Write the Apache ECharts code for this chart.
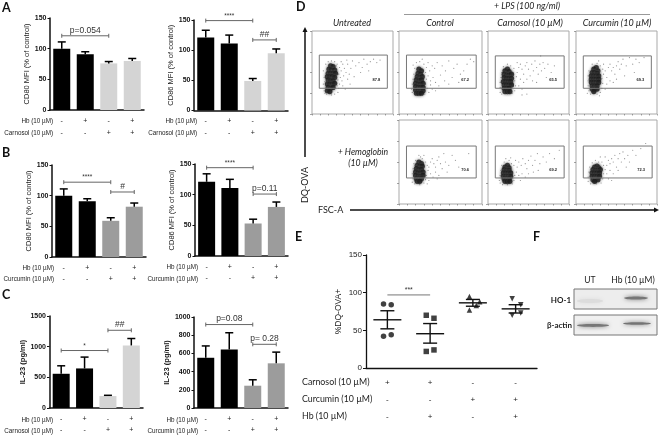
<!DOCTYPE html>
<html><head><meta charset="utf-8">
<style>html,body{margin:0;padding:0;background:#fff}#c{width:660px;height:436px}</style>
<script src="https://cdn.jsdelivr.net/npm/echarts@6/dist/echarts.min.js"></script>
</head><body><div id="c"></div>
<script>
// ---------- data ----------
const rowCatsBar = ['-\n-','+\n-','-\n+','+\n+'];
const rowCatsE = ['+\n-\n-','+\n-\n+','-\n+\n-','-\n+\n+'];

const a1Vals=[100,91,76,80], a1Err=[111,95,79,84];
const a2Vals=[121,111,49,95], a2Err=[133,125,53,102];
const b1Vals=[100,91,59,82], b1Err=[111,95,64,88];
const b2Vals=[121,111,53,80], b2Err=[134,125,60,88];
const c1Vals=[558,645,195,1020], c1Err=[688,830,207,1133];
const c2Vals=[552,643,245,491], c2Err=[682,827,310,614];

const a1Brackets=[[0,2,121,'p=0.054',8.5]];
const a2Brackets=[[0,2,149,'****',6.5],[2,3,117,'##',8.5]];
const b1Brackets=[[0,2,122,'****',6.5],[2,3,106,'#',8.5]];
const b2Brackets=[[0,2,144,'****',6.5],[2,3,101,'p=0.11',8.5]];
const c1Brackets=[[0,2,937,'*',6.5],[2,3,1267,'##',8.5]];
const c2Brackets=[[0,2,917,'p=0.08',8.5],[2,3,700,'p= 0.28',8.5]];

const eCircles=[[0.41,85],[0.59,84],[0.41,42],[0.59,44]];
const eSquares=[[1.41,70],[1.59,66],[1.41,22],[1.59,24]];
const eTriUp=[[2.42,95],[2.66,88],[2.58,83],[2.42,77]];
const eTriDown=[[3.42,92],[3.62,84],[3.62,73],[3.42,70]];
const eMeans=[64,45.5,86.5,78.5], eHigh=[76,59,91,84], eLow=[52,33,82,73];
const eBracket=[[0,1,97,'***',7]];

const flowGates=[[9,31,93,71],[9,31,93,71],[9,31,94,70],[9,31,93,70],[9,31,93,69],[9,31,94,69],[9,31,94,69]];
const flowValues=['87.8','67.2','65.5','69.3','70.6','69.2','72.3'];

const flowCore1=[[23,58],[26,57],[21,54],[24,53],[28,53],[20,49],[23,49],[26,49],[29,49],[19,45],[22,45],[25,45],[28,44],[20,41],[23,40],[26,40],[19,36],[22,36],[25,36],[28,37],[20,32],[23,31],[26,32],[19,28],[22,27]];
const flowSparse1=[[14,52],[15,44],[14,36],[15,28],[16,25],[18,24],[24,23],[28,24],[32,26],[33,31],[34,36],[32,41],[35,44],[33,48],[36,52],[34,56],[31,60],[28,63],[24,64],[20,63],[17,60],[38,60],[40,55],[42,50],[39,46],[37,40],[38,34],[41,30],[44,42],[46,48],[48,55],[44,60],[50,64],[54,58],[58,62],[60,50],[64,66],[68,60],[72,63],[76,66],[80,62],[84,65],[70,52],[52,45],[47,36],[62,56],[17,31],[16,39],[31,34],[30,58],[36,63],[43,65]];
const flowCore2=[[24,54],[27,52],[23,49],[26,48],[22,45],[25,44],[28,45],[21,41],[24,40],[27,41],[20,37],[23,36],[26,36],[29,37],[20,33],[23,32],[26,32],[29,32],[20,29],[23,28],[26,28],[29,28],[21,25],[24,25],[27,25]];
const flowSparse2=[[17,59],[21,62],[25,63],[30,60],[33,56],[19,55],[18,48],[17,42],[16,36],[15,30],[16,26],[32,50],[35,46],[33,42],[32,36],[34,31],[36,26],[31,24],[37,52],[40,58],[43,55],[46,62],[38,40],[41,44],[44,38],[50,47],[52,58],[56,52],[60,64],[64,44],[66,55],[70,60],[74,48],[78,52],[82,60],[86,66],[90,63],[48,34],[40,30],[44,28],[55,40],[35,62],[28,66],[60,36],[72,38],[38,35]];
const flowCore3=[[24,54],[21,52],[26,51],[20,48],[23,47],[26,47],[29,48],[20,44],[23,43],[26,43],[29,43],[19,39],[22,39],[25,39],[28,39],[20,35],[23,35],[26,35],[29,35],[20,31],[23,31],[26,31],[21,27],[24,27],[27,27]];
const flowSparse3=[[24,60],[28,58],[19,57],[32,55],[17,50],[16,44],[15,38],[15,32],[15,26],[17,24],[30,25],[33,28],[34,34],[33,40],[35,45],[36,50],[38,56],[40,60],[42,54],[44,48],[46,58],[48,62],[50,54],[52,46],[54,60],[56,52],[58,64],[60,56],[62,48],[64,60],[66,52],[68,62],[70,55],[74,60],[78,50],[82,58],[40,42],[44,38],[38,34],[42,30],[48,42],[55,40],[60,38],[36,62],[42,23],[48,24],[65,70],[72,44]];
const flowCore4=[[25,56],[22,54],[27,52],[20,50],[23,50],[26,49],[19,46],[22,46],[25,46],[28,46],[19,42],[22,42],[25,42],[28,42],[19,38],[22,38],[25,38],[28,38],[20,34],[23,34],[26,34],[20,30],[23,30],[26,30],[22,27]];
const flowSparse4=[[20,60],[26,61],[30,58],[33,54],[16,52],[15,46],[15,40],[15,34],[16,28],[14,25],[18,24],[26,24],[30,26],[32,31],[33,37],[32,43],[34,48],[36,52],[38,44],[40,56],[42,60],[44,52],[46,56],[48,48],[50,58],[52,63],[54,54],[56,60],[58,66],[62,58],[66,68],[70,60],[74,66],[78,62],[84,68],[38,36],[42,40],[36,30],[46,38],[60,46],[34,60],[50,42],[28,64],[72,50],[29,22]];
const flowCore5=[[24,50],[27,48],[22,46],[25,45],[28,45],[21,42],[24,41],[27,41],[20,38],[23,37],[26,37],[29,38],[20,34],[23,33],[26,33],[29,34],[21,30],[24,30],[27,30],[22,27],[25,27]];
const flowSparse5=[[20,52],[28,54],[32,50],[34,46],[18,48],[17,42],[16,36],[17,30],[16,26],[19,24],[25,23],[30,25],[32,29],[33,34],[35,40],[36,44],[38,50],[40,54],[42,48],[44,44],[46,52],[48,56],[50,48],[52,42],[38,36],[41,32],[36,28],[44,38],[56,50],[60,46],[58,38],[68,52],[72,44],[84,60],[30,58],[26,56],[48,34],[64,58],[24,58],[34,24],[46,30],[54,60]];
const flowCore6=[[24,46],[21,44],[26,43],[20,41],[23,40],[26,40],[19,37],[22,37],[25,37],[28,37],[19,33],[22,33],[25,33],[28,33],[20,30],[23,30],[26,30],[21,27],[24,27],[27,27]];
const flowSparse6=[[22,54],[26,52],[20,50],[29,48],[32,46],[17,46],[16,40],[15,34],[14,28],[15,25],[18,23],[24,23],[30,24],[32,28],[33,34],[35,38],[36,44],[38,50],[41,46],[43,54],[46,48],[48,42],[50,52],[53,57],[55,46],[58,52],[61,60],[64,48],[68,56],[72,50],[76,60],[82,54],[88,64],[38,34],[42,36],[40,28],[46,32],[56,38],[34,52],[28,55],[62,40],[50,36]];
const flowCore7=[[26,45],[23,44],[28,43],[21,41],[24,40],[27,40],[30,41],[20,37],[23,37],[26,37],[29,37],[20,33],[23,33],[26,33],[29,33],[21,29],[24,29],[27,29],[23,27]];
const flowSparse7=[[24,52],[28,50],[32,50],[20,49],[34,46],[17,44],[16,38],[15,32],[15,27],[18,24],[25,24],[31,25],[33,30],[34,36],[36,41],[38,46],[40,52],[42,48],[44,54],[46,50],[48,58],[50,44],[52,54],[54,60],[56,50],[58,62],[60,54],[64,58],[66,50],[70,64],[74,58],[80,66],[86,72],[38,36],[42,40],[40,30],[46,36],[36,56],[30,56],[52,40],[62,44],[44,28]];

const flowCores=[flowCore1,flowCore2,flowCore3,flowCore4,flowCore5,flowCore6,flowCore7];
const flowSparses=[flowSparse1,flowSparse2,flowSparse3,flowSparse4,flowSparse5,flowSparse6,flowSparse7];

// ---------- helpers ----------
const grid=[],xAxis=[],yAxis=[],series=[],graphic=[];
const SANS='"Liberation Sans",Arial,sans-serif', CAL='Lato,"Open Sans",sans-serif';
function box(l,t,r,b){return {left:l,top:t,width:r-l,height:b-t,containLabel:false};}
function txt(x,y,text,o={}){graphic.push({type:'text',x,y,silent:true,z:20,rotation:o.rot||0,style:{text,fill:o.fill||'#222',font:(o.italic?'italic ':'')+(o.bold?'bold ':'')+(o.size||6.5)+'px '+(o.family||SANS),textAlign:o.align||'left',textVerticalAlign:'middle'}});}
function bracketSeries(ax,list,caps){
  series.push({type:'custom',coordinateSystem:'cartesian2d',xAxisIndex:ax,yAxisIndex:ax,clip:false,silent:true,z:6,
    data:list.map(b=>[b[0],b[1],b[2]]),encode:{x:[0,1],y:2},
    renderItem:(p,api)=>{const b=list[p.dataIndex];const a=api.coord([b[0],b[2]]),c=api.coord([b[1],b[2]]);
      const st={stroke:'#666',lineWidth:1,fill:null};const kids=[{type:'line',shape:{x1:a[0],y1:a[1],x2:c[0],y2:c[1]},style:st}];
      if(caps){kids.push({type:'line',shape:{x1:a[0],y1:a[1]-2,x2:a[0],y2:a[1]+2},style:st},{type:'line',shape:{x1:c[0],y1:c[1]-2,x2:c[0],y2:c[1]+2},style:st});}
      kids.push({type:'text',x:(a[0]+c[0])/2,y:a[1]-1,style:{text:b[3],fill:'#333',font:b[4]+'px '+SANS,textAlign:'center',textVerticalAlign:'bottom'}});
      return {type:'group',children:kids};}});
}
function barPanel(cfg){
  const ax=grid.length;
  grid.push(box(cfg.l,cfg.t,cfg.r,cfg.b));
  xAxis.push({gridIndex:ax,type:'category',data:rowCatsBar,axisLine:{lineStyle:{color:'#111',width:1.5}},axisTick:{alignWithLabel:true,length:2.5,lineStyle:{color:'#111',width:1}},
    axisLabel:{interval:0,fontSize:7,lineHeight:cfg.rowGap,margin:5,color:'#222',fontFamily:SANS},splitLine:{show:false}});
  yAxis.push({gridIndex:ax,type:'value',min:0,max:cfg.max,interval:cfg.step,name:cfg.name,nameLocation:'middle',nameGap:cfg.gap,
    nameTextStyle:{fontSize:7.5,fontWeight:cfg.nameBold?'bold':'normal',color:'#222',fontFamily:SANS},
    axisLine:{show:true,lineStyle:{color:'#111',width:1.5}},axisTick:{show:true,length:2.5,lineStyle:{color:'#111',width:1}},
    axisLabel:{fontSize:7,fontWeight:'bold',margin:3.5,color:'#111',fontFamily:SANS,formatter:v=>String(v)},splitLine:{show:false}});
  series.push({type:'bar',xAxisIndex:ax,yAxisIndex:ax,barWidth:17,data:cfg.vals.map((v,i)=>({value:v,itemStyle:{color:cfg.colors[i]}})),silent:true});
  series.push({type:'custom',coordinateSystem:'cartesian2d',xAxisIndex:ax,yAxisIndex:ax,silent:true,z:5,
    data:cfg.vals.map((v,i)=>[i,v,cfg.err[i]]),encode:{x:0,y:[1,2]},
    renderItem:(p,api)=>{const a=api.coord([api.value(0),api.value(1)]),c=api.coord([api.value(0),api.value(2)]);
      const st={stroke:'#000',lineWidth:1.5};
      return {type:'group',children:[{type:'line',shape:{x1:a[0],y1:a[1],x2:c[0],y2:c[1]},style:st},{type:'line',shape:{x1:c[0]-4,y1:c[1],x2:c[0]+4,y2:c[1]},style:st}]};}});
  bracketSeries(ax,cfg.brackets,true);
  txt(cfg.rowX,cfg.rowY[0],'Hb (10 µM)',{align:'right',size:6.3});
  txt(cfg.rowX,cfg.rowY[1],cfg.drug,{align:'right',size:6.3});
}
function flowPanel(l,t,r,b,i){
  const ax=grid.length, xi=xAxis.length, yi=yAxis.length;
  const g=box(l,t,r,b);g.show=true;g.borderColor='#a9a9a9';g.borderWidth=1;g.backgroundColor='#fff';grid.push(g);
  xAxis.push({gridIndex:ax,type:'value',min:0,max:100,interval:10,axisLine:{show:false},axisTick:{show:true,length:1.5,lineStyle:{color:'#666',width:.6}},axisLabel:{show:false},splitLine:{show:false}});
  yAxis.push({gridIndex:ax,type:'value',min:0,max:100,interval:25,axisLine:{show:false},axisTick:{show:true,length:2,lineStyle:{color:'#666',width:.6}},axisLabel:{show:false},splitLine:{show:false}});
  series.push({type:'scatter',xAxisIndex:xi,yAxisIndex:yi,symbolSize:1.2,silent:true,itemStyle:{color:'#666',opacity:.7},data:flowSparses[i]});
  series.push({type:'scatter',xAxisIndex:xi,yAxisIndex:yi,symbolSize:5.2,silent:true,itemStyle:{color:'#181818',shadowBlur:3,shadowColor:'#555'},data:flowCores[i]});
  const gate=flowGates[i];
  series.push({type:'custom',coordinateSystem:'cartesian2d',xAxisIndex:xi,yAxisIndex:yi,silent:true,z:7,data:[gate],encode:{x:[0,2],y:[1,3]},
    renderItem:(p,api)=>{const a=api.coord([gate[0],gate[3]]),c=api.coord([gate[2],gate[1]]);
      return {type:'group',children:[{type:'rect',shape:{x:a[0],y:a[1],width:c[0]-a[0],height:c[1]-a[1]},style:{stroke:'#777',lineWidth:1,fill:null}},
        {type:'text',x:c[0]-11,y:c[1]-8,style:{text:flowValues[i],fill:'#222',font:'bold 4px '+SANS,textAlign:'center',textVerticalAlign:'middle'}}]};}});
}
const BK='#000',LG='#d4d4d4',MG='#9c9c9c';
const colorsLG=[BK,BK,LG,LG],colorsMG=[BK,BK,MG,MG];
barPanel({l:50,t:18,r:144,b:110,max:150,step:50,vals:a1Vals,err:a1Err,colors:colorsLG,brackets:a1Brackets,name:'CD80 MFI (% of control)',gap:19.5,rowGap:12,rowX:53,rowY:[121,133],drug:'Carnosol (10 µM)'});
barPanel({l:194,t:20,r:288,b:110.5,max:150,step:50,vals:a2Vals,err:a2Err,colors:colorsLG,brackets:a2Brackets,name:'CD86 MFI (% of control)',gap:19.5,rowGap:12,rowX:197,rowY:[121,133],drug:'Carnosol (10 µM)'});
barPanel({l:52,t:165,r:146,b:257,max:150,step:50,vals:b1Vals,err:b1Err,colors:colorsMG,brackets:b1Brackets,name:'CD80 MFI (% of control)',gap:18.5,rowGap:11.5,rowX:54,rowY:[268,279],drug:'Curcumin (10 µM)'});
barPanel({l:195,t:164,r:288,b:256,max:150,step:50,vals:b2Vals,err:b2Err,colors:colorsMG,brackets:b2Brackets,name:'CD86 MFI (% of control)',gap:17.5,rowGap:11.5,rowX:198,rowY:[267,279],drug:'Curcumin (10 µM)'});
barPanel({l:49.5,t:316,r:143,b:408,max:1500,step:500,vals:c1Vals,err:c1Err,colors:colorsLG,brackets:c1Brackets,name:'IL-23 (pg/ml)',nameBold:true,gap:19,rowGap:11.5,rowX:53,rowY:[420,431],drug:'Carnosol (10 µM)'});
barPanel({l:194,t:317,r:288,b:409,max:1000,step:200,vals:c2Vals,err:c2Err,colors:colorsMG,brackets:c2Brackets,name:'IL-23 (pg/ml)',nameBold:true,gap:19,rowGap:11.5,rowX:198,rowY:[420,431],drug:'Curcumin (10 µM)'});

// panel E
(function(){
  const ax=grid.length, cx=xAxis.length, yi=yAxis.length, xv=cx+1;
  grid.push(box(366,255,537,368));
  xAxis.push({gridIndex:ax,type:'category',data:rowCatsE,axisLine:{lineStyle:{color:'#111',width:1.3}},axisTick:{alignWithLabel:true,length:3,lineStyle:{color:'#111',width:1}},
    axisLabel:{interval:0,fontSize:8,lineHeight:17,margin:6,color:'#222',fontFamily:SANS},splitLine:{show:false}});
  xAxis.push({gridIndex:ax,type:'value',min:0,max:4,show:false,splitLine:{show:false}});
  yAxis.push({gridIndex:ax,type:'value',min:0,max:150,interval:50,name:'%DQ-OVA+',nameLocation:'middle',nameGap:22.5,
    nameTextStyle:{fontSize:8.5,color:'#222',fontFamily:SANS},axisLine:{show:true,lineStyle:{color:'#111',width:1.3}},axisTick:{show:true,length:3,lineStyle:{color:'#111',width:1}},
    axisLabel:{fontSize:8,margin:4,color:'#222',fontFamily:SANS},splitLine:{show:false}});
  [[eCircles,'circle',0],[eSquares,'rect',0],[eTriUp,'triangle',0],[eTriDown,'triangle',180]].forEach(s=>{
    series.push({type:'scatter',xAxisIndex:xv,yAxisIndex:yi,symbol:s[1],symbolRotate:s[2],symbolSize:5.5,silent:true,itemStyle:{color:'#111'},data:s[0]});});
  series.push({type:'custom',coordinateSystem:'cartesian2d',xAxisIndex:cx,yAxisIndex:yi,silent:true,z:5,
    data:eMeans.map((m,i)=>[i,m,eHigh[i],eLow[i]]),encode:{x:0,y:[1,2,3]},
    renderItem:(p,api)=>{const i=api.value(0);const m=api.coord([i,api.value(1)]),h=api.coord([i,api.value(2)]),l=api.coord([i,api.value(3)]);
      const st={stroke:'#111',lineWidth:1.4};const L=(x1,y1,x2,y2)=>({type:'line',shape:{x1,y1,x2,y2},style:st});
      return {type:'group',children:[L(m[0]-14,m[1],m[0]+14,m[1]),L(h[0],h[1],l[0],l[1]),L(h[0]-7,h[1],h[0]+7,h[1]),L(l[0]-7,l[1],l[0]+7,l[1])]};}});
  series.push({type:'custom',coordinateSystem:'cartesian2d',xAxisIndex:cx,yAxisIndex:yi,silent:true,z:6,
    data:eBracket.map(b=>[b[0],b[1],b[2]]),encode:{x:[0,1],y:2},
    renderItem:(p,api)=>{const b=eBracket[0];const a=api.coord([b[0],b[2]]),c=api.coord([b[1],b[2]]);
      return {type:'group',children:[{type:'line',shape:{x1:a[0],y1:a[1],x2:c[0],y2:c[1]},style:{stroke:'#777',lineWidth:1}},
        {type:'text',x:(a[0]+c[0])/2,y:a[1]-1,style:{text:b[3],fill:'#333',font:b[4]+'px '+SANS,textAlign:'center',textVerticalAlign:'bottom'}}]};}});
})();
txt(302,382,'Carnosol (10 µM)',{size:8.8,family:CAL});
txt(302,399,'Curcumin (10 µM)',{size:8.8,family:CAL});
txt(302,416,'Hb (10 µM)',{size:8.8,family:CAL});

// panel D
flowPanel(312,31,393,114,0);flowPanel(399,31,482,114,1);flowPanel(488,31,569,114,2);flowPanel(576,31,657,114,3);
flowPanel(399,120,482,204,4);flowPanel(488,120,569,204,5);flowPanel(576,120,657,204,6);
txt(527,6,'+ LPS (100 ng/ml)',{italic:true,size:8.8,align:'center',family:CAL});
graphic.push({type:'line',silent:true,shape:{x1:404,y1:14.5,x2:650,y2:14.5},style:{stroke:'#999',lineWidth:1}});
[[352,'Untreated'],[440,'Control'],[530,'Carnosol (10 µM)'],[617,'Curcumin (10 µM)']].forEach(t=>txt(t[0],23.5,t[1],{italic:true,size:9,align:'center',family:CAL}));
txt(363,152,'+ Hemoglobin',{italic:true,size:8.7,align:'center',family:CAL});
txt(363,163,'(10 µM)',{italic:true,size:8.7,align:'center',family:CAL});
// arrows
graphic.push({type:'line',silent:true,shape:{x1:305,y1:30,x2:305,y2:157},style:{stroke:'#111',lineWidth:1.5}});
graphic.push({type:'polygon',silent:true,shape:{points:[[305,27],[302.5,32],[307.5,32]]},style:{fill:'#111'}});
graphic.push({type:'line',silent:true,shape:{x1:350,y1:210,x2:655,y2:210},style:{stroke:'#111',lineWidth:1.5}});
graphic.push({type:'polygon',silent:true,shape:{points:[[659,210],[654,207.5],[654,212.5]]},style:{fill:'#111'}});
graphic.push({type:'text',x:305,y:185,rotation:Math.PI/2,silent:true,style:{text:'DQ-OVA',fill:'#222',font:'9px '+CAL,textAlign:'center',textVerticalAlign:'middle'}});
txt(318,210,'FSC-A',{size:9,family:CAL});

// panel letters
[['A',2,8],['B',2,153],['C',2,295],['D',296,7],['E',295,237],['F',533,237]].forEach(t=>txt(t[1],t[2],t[0],{bold:true,size:12.5,family:CAL,fill:'#111'}));

// panel F (blot)
txt(590,280,'UT',{size:8.5,align:'center',family:CAL});
txt(633,280,'Hb (10 µM)',{size:8.5,align:'center',family:CAL});
txt(561,300,'HO-1',{size:8,bold:true,align:'center',family:CAL});
txt(572,325,'β-actin',{size:8,bold:true,align:'right',family:CAL});
graphic.push({type:'rect',silent:true,shape:{x:574,y:289,width:83,height:20},style:{fill:'#ededed',stroke:'#777',lineWidth:1}});
graphic.push({type:'rect',silent:true,shape:{x:574,y:315,width:83,height:20},style:{fill:'#f0f0f0',stroke:'#777',lineWidth:1}});
function band(cx,cy,rx,ry,fill,blur){graphic.push({type:'ellipse',silent:true,z:3,shape:{cx,cy,rx,ry},style:{fill,shadowBlur:blur,shadowColor:fill}});}
band(590,301,13,2,'#dcdcdc',4);
band(636,298,12,1.6,'#777777',4);
band(593,325.5,16,1.4,'#777777',4);
band(637,323.5,14,1.3,'#747474',4);

const chart=echarts.init(document.getElementById('c'),null,{renderer:'canvas'});
chart.setOption({animation:false,backgroundColor:'#fff',grid,xAxis,yAxis,series,graphic:{elements:graphic}});
</script></body></html>
